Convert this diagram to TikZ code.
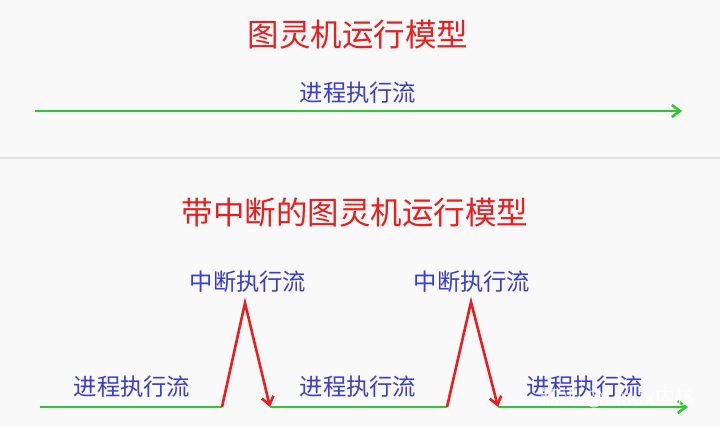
\documentclass[tikz,border=0pt]{standalone}
\usepackage{fontspec}
\newfontfamily\cjk{Noto Sans CJK SC}
\usetikzlibrary{arrows.meta}
\definecolor{titlered}{HTML}{EE1C1C}
\definecolor{flowblue}{HTML}{3B3BD6}
\definecolor{flowgreen}{HTML}{2ACB2A}
\definecolor{bggray}{HTML}{F9F9F9}
\definecolor{sepgray}{HTML}{E2E2E2}
\begin{document}
\begin{tikzpicture}[
        x=1pt, y=1pt,
        title/.style = {inner sep=0pt, text=titlered, font=\cjk\fontsize{31.5}{31.5}\selectfont}, % Заголовки
        flowlabel/.style = {inner sep=0pt, text=flowblue, font=\cjk\fontsize{23.3}{23.3}\selectfont}, % Подписи потоков
        proc/.style = {draw=flowgreen, line width=2.6pt},
        intr/.style = {draw=titlered, line width=2.6pt, line join=miter},
        tip/.style = {-{Straight Barb[length=8pt, width=12pt]}},
    ]
    % Фон и рамка
    \fill[bggray] (0,0) rectangle (720,426);
    \useasboundingbox (0,0) rectangle (720,426);

    % Верхняя модель
    \node[title] (top title) at (358,391) {图灵机运行模型};
    \node[flowlabel] (top label) at (358,333) {进程执行流};
    \coordinate (top start) at (35,315);
    \coordinate (top end) at (682,315);
    \draw[proc, tip] (top start) -- (top end);

    % Разделитель
    \coordinate (sep left) at (0,268);
    \coordinate (sep right) at (720,268);
    \draw[sepgray, line width=1.5pt] (sep left) -- (sep right);

    % Нижняя модель с прерываниями
    \node[title] (int title) at (355,213) {带中断的图灵机运行模型};

    \coordinate (p0) at (40,19);
    \coordinate (a1) at (222,19);
    \coordinate (t1) at (245,123);
    \coordinate (b1) at (270,19);
    \coordinate (a2) at (447,19);
    \coordinate (t2) at (471,124);
    \coordinate (b2) at (498,19);
    \coordinate (p3) at (688,19);

    \draw[proc] (p0) -- (a1);
    \draw[intr, tip] (a1) -- (t1) -- (b1);
    \draw[proc] (b1) -- (a2);
    \draw[intr, tip] (a2) -- (t2) -- (b2);
    \draw[proc, tip] (b2) -- (p3);

    \node[flowlabel] (int label 1) at (248,144) {中断执行流};
    \node[flowlabel] (int label 2) at (472,144) {中断执行流};
    \node[flowlabel] (proc label 1) at (132,39) {进程执行流};
    \node[flowlabel] (proc label 2) at (358,39) {进程执行流};
    \node[flowlabel] (proc label 3) at (585,39) {进程执行流};

    % Водяной знак
    \node[inner sep=0pt, text=white, opacity=0.75, font=\cjk\fontsize{20}{20}\selectfont] (mark) at (618,28) {知乎 @Linux内核};
\end{tikzpicture}
\end{document}
